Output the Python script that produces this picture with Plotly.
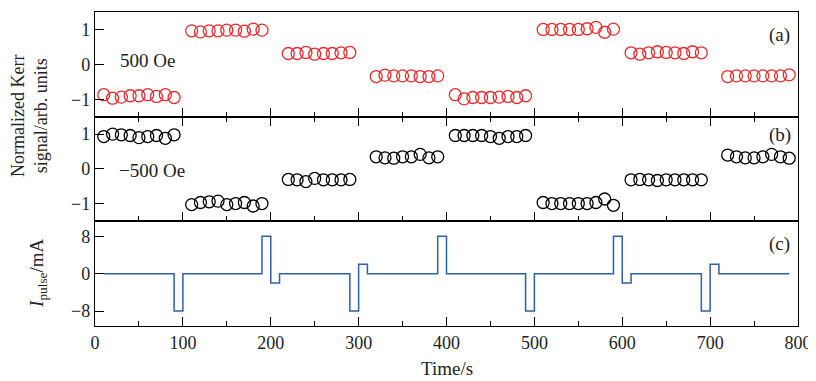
import plotly.graph_objects as go
from plotly.subplots import make_subplots

# ---- data ----
time_a = [10, 20, 30, 40, 50, 60, 70, 80, 90,
          110, 120, 130, 140, 150, 160, 170, 180, 190,
          220, 230, 240, 250, 260, 270, 280, 290,
          320, 330, 340, 350, 360, 370, 380, 390,
          410, 420, 430, 440, 450, 460, 470, 480, 490,
          510, 520, 530, 540, 550, 560, 570, 580, 590,
          610, 620, 630, 640, 650, 660, 670, 680, 690,
          720, 730, 740, 750, 760, 770, 780, 790]
kerr_pos = [-0.87, -0.97, -0.94, -0.90, -0.90, -0.87, -0.92, -0.87, -0.95,
            0.96, 0.93, 0.96, 0.96, 0.98, 0.98, 0.95, 1.01, 0.98,
            0.31, 0.31, 0.34, 0.29, 0.31, 0.31, 0.33, 0.34,
            -0.35, -0.31, -0.33, -0.33, -0.33, -0.35, -0.35, -0.33,
            -0.87, -0.99, -0.95, -0.95, -0.95, -0.94, -0.92, -0.95, -0.90,
            1.00, 1.00, 1.00, 1.00, 1.00, 1.02, 1.06, 0.92, 1.01,
            0.33, 0.29, 0.33, 0.36, 0.34, 0.33, 0.31, 0.36, 0.33,
            -0.35, -0.33, -0.33, -0.33, -0.33, -0.33, -0.33, -0.30]
kerr_neg = [0.93, 1.00, 0.98, 0.96, 0.90, 0.93, 0.96, 0.88, 0.98,
            -1.02, -0.96, -0.94, -0.92, -1.02, -0.99, -0.96, -1.06, -0.99,
            -0.30, -0.31, -0.36, -0.27, -0.31, -0.31, -0.31, -0.30,
            0.35, 0.32, 0.31, 0.35, 0.35, 0.42, 0.32, 0.35,
            0.96, 0.96, 0.96, 0.96, 0.93, 0.88, 0.93, 0.93, 0.96,
            -0.96, -0.99, -0.99, -0.99, -0.99, -0.99, -0.96, -0.86, -1.04,
            -0.31, -0.30, -0.31, -0.33, -0.31, -0.31, -0.31, -0.31, -0.31,
            0.40, 0.35, 0.32, 0.32, 0.35, 0.42, 0.35, 0.31]
pulse_time = [10, 90, 100, 190, 200, 210, 290, 300, 310, 390, 400,
              490, 500, 590, 600, 610, 690, 700, 710, 790]
pulse_current = [0, -8, 0, 8, -2, 0, -8, 2, 0, 8, 0,
                 -8, 0, 8, -2, 0, -8, 2, 0, 0]
x_ticks = [0, 100, 200, 300, 400, 500, 600, 700, 800]
kerr_ticks = [-1, 0, 1]
pulse_ticks = [-8, 0, 8]

FONT = "Liberation Serif, DejaVu Serif, serif"
RED = "#ea2a2e"
BLUE = "#2f5fa8"

fig = make_subplots(rows=3, cols=1, shared_xaxes=True, vertical_spacing=0)

fig.add_trace(go.Scatter(x=time_a, y=kerr_pos, mode="markers",
                         marker=dict(symbol="circle-open", size=12, color=RED,
                                     line=dict(width=1.3, color=RED)),
                         showlegend=False), row=1, col=1)
fig.add_trace(go.Scatter(x=time_a, y=kerr_neg, mode="markers",
                         marker=dict(symbol="circle-open", size=12, color="black",
                                     line=dict(width=1.3, color="black")),
                         showlegend=False), row=2, col=1)
fig.add_trace(go.Scatter(x=pulse_time, y=pulse_current, mode="lines",
                         line=dict(shape="hv", color=BLUE, width=1.5),
                         showlegend=False), row=3, col=1)

axis_common = dict(showline=True, linecolor="black", linewidth=1.3,
                   ticks="inside", tickcolor="black", tickwidth=1.2,
                   showgrid=False, zeroline=False, automargin=False,
                   tickfont=dict(family=FONT, size=18, color="#222"))

for r in (1, 2, 3):
    fig.update_xaxes(range=[0, 800], tickvals=x_ticks, ticklen=9,
                     minor=dict(ticks="inside", dtick=50, tick0=0, ticklen=5,
                                tickcolor="black", tickwidth=1.1, showgrid=False),
                     mirror=("ticks" if r == 2 else True),
                     showticklabels=(r == 3), row=r, col=1, **axis_common)

fig.update_yaxes(range=[-1.5, 1.5], tickvals=kerr_ticks, ticklen=9, mirror=True,
                 ticktext=["\u22121", "0", "1"], row=1, col=1, **axis_common)
fig.update_yaxes(range=[-1.5, 1.5], tickvals=kerr_ticks, ticklen=9, mirror=True,
                 ticktext=["\u22121", "0", "1"], row=2, col=1, **axis_common)
fig.update_yaxes(range=[-11.2, 11.2], tickvals=pulse_ticks, ticklen=9, mirror=True,
                 ticktext=["\u22128", "0", "8"], row=3, col=1, **axis_common)

tf = dict(family=FONT, size=19, color="#222")
tf_title = dict(family=FONT, size=18, color="#222")
ann = [
    dict(text="500 Oe", x=60, y=0.1, xref="x", yref="y", showarrow=False, font=tf),
    dict(text="\u2212500 Oe", x=65, y=-0.05, xref="x2", yref="y2", showarrow=False, font=tf),
    dict(text="(a)", x=779, y=0.83, xref="x", yref="y", showarrow=False, font=tf),
    dict(text="(b)", x=779, y=0.98, xref="x2", yref="y2", showarrow=False, font=tf),
    dict(text="(c)", x=779, y=6.4, xref="x3", yref="y3", showarrow=False, font=tf),
    dict(text="Normalized Kerr<br>signal/arb. units", x=-0.0925, y=0.669,
         xref="paper", yref="paper", xanchor="center", yanchor="middle",
         showarrow=False, textangle=-90, font=tf_title),
    dict(text="<i>I</i><sub>pulse</sub>/mA", x=-0.081, y=0.166,
         xref="paper", yref="paper", xanchor="center", yanchor="middle",
         showarrow=False, textangle=-90, font=tf),
    dict(text="Time/s", x=0.5, y=-0.134, xref="paper", yref="paper",
         xanchor="center", yanchor="middle", showarrow=False, font=tf),
]
# the page body has an 8 px margin, so the figure is 8 px smaller and shifted
fig.update_layout(width=808, height=373,
                  margin=dict(l=87, r=18, t=4, b=55, autoexpand=False),
                  paper_bgcolor="white", plot_bgcolor="white",
                  annotations=ann)

fig.write_html("out.html")
